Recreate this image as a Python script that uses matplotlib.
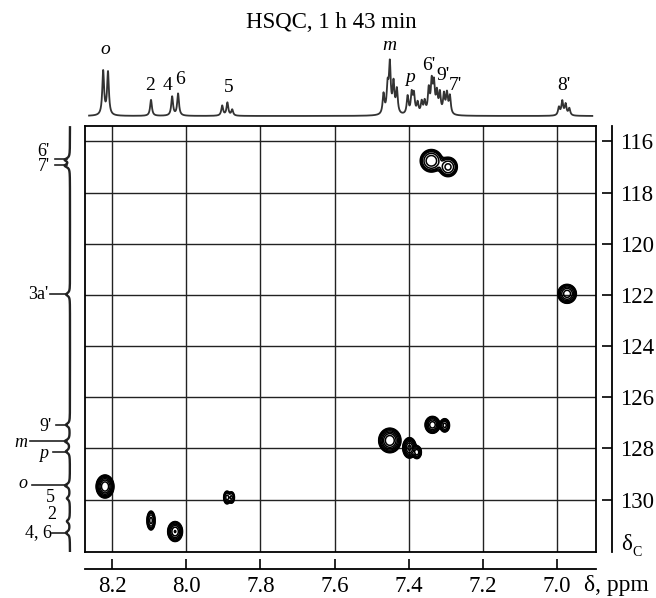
import numpy as np
import matplotlib
matplotlib.use("Agg")
import matplotlib.pyplot as plt

plt.rcParams['font.family'] = ['Liberation Serif', 'DejaVu Serif']

W, H = 656, 598

# axis ranges / ticks
h_lim = (8.273, 6.895)
c_lim = (132.05, 115.4)
h_ticks = [8.2, 8.0, 7.8, 7.6, 7.4, 7.2, 7.0]
c_ticks = [116, 118, 120, 122, 124, 126, 128, 130]

# HSQC cross peaks (1H ppm, 13C ppm, outer half size H, outer half size C, rel. intensity)
peak_h = [8.219, 8.095, 8.030, 7.890, 7.878, 7.451, 7.398, 7.378, 7.336, 7.303, 7.339, 7.294, 6.973]
peak_c = [129.49, 130.82, 131.25, 129.92, 129.92, 127.69, 127.98, 128.15, 127.08, 127.10, 116.76, 117.00, 121.96]
half_h = [0.024, 0.011, 0.020, 0.009, 0.008, 0.030, 0.018, 0.012, 0.020, 0.013, 0.030, 0.025, 0.025]
half_c = [0.45, 0.37, 0.39, 0.25, 0.22, 0.48, 0.40, 0.25, 0.33, 0.26, 0.44, 0.38, 0.37]
peak_amp = [5.0, 0.8, 2.5, 0.4, 0.35, 5.0, 3.0, 1.0, 2.0, 0.8, 1.2, 0.8, 2.0]
levels = [0.05, 0.07, 0.1, 0.15, 0.3, 0.6, 1.2, 2.4]

# 1H projection lines (ppm, height in px above baseline)
h1_pos = [8.224, 8.211, 8.095, 8.038, 8.022, 7.903, 7.889, 7.876,
          7.468, 7.457, 7.451, 7.441, 7.432,
          7.403, 7.392, 7.386, 7.376, 7.365, 7.357,
          7.346, 7.338, 7.332, 7.324, 7.316, 7.305, 7.297, 7.289,
          6.995, 6.986, 6.977, 6.967]
h1_height = [44, 43, 16, 19, 22, 10, 13, 6,
             20, 26, 48, 30, 24,
             18, 20, 19, 11, 12, 12,
             24, 30, 28, 20, 20, 19, 20, 18,
             8, 14, 11, 7]
h1_labels = ['o', '2', '4', '6', '5', 'm', 'p', "6'", "9'", "7'", "8'"]
h1_label_x = [8.217, 8.097, 8.051, 8.016, 7.886, 7.451, 7.397, 7.346, 7.308, 7.273, 6.981]
h1_label_y = [67, 31, 31, 36, 28, 71, 39, 51, 41, 30, 31]
h1_italic = [True, False, False, False, False, True, True, False, False, False, False]

# 13C projection lines (ppm, depth in px)
c13_pos = [116.72, 116.95, 121.98, 127.08, 127.72, 128.12, 129.45, 129.95, 130.85, 131.3]
c13_depth = [5, 5, 4, 4, 5, 4, 5, 3, 3, 4]
c13_labels = ["6'", "7'", "3a'", "9'", 'm', 'p', 'o', '5', '2', '4, 6']
c13_label_c = [116.38, 117.0, 121.98, 127.14, 127.76, 128.2, 129.37, 129.92, 130.6, 131.29]
c13_label_x = [-20, -20, -22, -18, -43, -22, -43, -15, -14, -18]
c13_italic = [False, False, False, False, True, True, True, False, False, False]
c13_line_c = [116.7, 116.94, 121.98, 127.1, 127.72, 128.16, 129.45, None, None, 131.3]
c13_line_x0 = [-15, -15, -20, -14, -40, -17, -38, None, None, -18]


def lorentz(x, x0, w):
    return 1.0 / (1.0 + ((x - x0) / w) ** 2)


fig = plt.figure(figsize=(W / 100, H / 100), dpi=100)

# main 2D panel
ax = fig.add_axes([85 / W, 1 - 552 / H, 511 / W, 426 / H])
hh = np.linspace(h_lim[1], h_lim[0], 1400)
cc = np.linspace(c_lim[1], c_lim[0], 900)
HH, CC = np.meshgrid(hh, cc)
Z = np.zeros_like(HH)
for h0, c0, wh, wc, a in zip(peak_h, peak_c, half_h, half_c, peak_amp):
    k = np.sqrt(2 * np.log(a / levels[0]))
    sh, sc = wh / k, wc / k
    Z += a * np.exp(-0.5 * ((HH - h0) / sh) ** 2 - 0.5 * ((CC - c0) / sc) ** 2)
ax.contour(HH, CC, Z, levels=levels, colors='black', linewidths=1.1)
ax.set_xlim(*h_lim)
ax.set_ylim(*c_lim)
ax.set_xticks(h_ticks)
ax.set_yticks(c_ticks)
ax.grid(True, color='#222222', lw=1.0)
ax.tick_params(length=0, labelbottom=False, labelleft=False)
for s in ax.spines.values():
    s.set_linewidth(1.3)

# detached bottom / right scales
secx = ax.secondary_xaxis(-0.040)
secx.set_xticks(h_ticks)
secx.set_xticklabels(['%.1f' % t for t in h_ticks])
secx.tick_params(direction='in', length=7, width=1.2, labelsize=16.5, pad=5)
secx.spines['bottom'].set_linewidth(1.3)

secy = ax.secondary_yaxis(1.0313)
secy.set_yticks(c_ticks)
secy.tick_params(direction='in', length=7, width=1.2, labelsize=16.5, pad=6)
secy.spines['right'].set_linewidth(1.3)

fig.text(584 / W, 1 - 585 / H, 'δ, ppm', fontsize=17, va='center', ha='left')
fig.text(621 / W, 1 - 545 / H, 'δ', fontsize=16.5, va='center', ha='left')
fig.text(632 / W, 1 - 553 / H, 'C', fontsize=10, va='center', ha='left')

# top 1H projection
ax_t = fig.add_axes([85 / W, 1 - 120 / H, 511 / W, 90 / H])
xs = np.linspace(8.262, 6.905, 3000)
ys = np.zeros_like(xs)
for p, hgt in zip(h1_pos, h1_height):
    ys += hgt * lorentz(xs, p, 0.0029)
ax_t.plot(xs, ys, color='#333333', lw=1.3)
for lab, lx, ly, it in zip(h1_labels, h1_label_x, h1_label_y, h1_italic):
    ax_t.text(lx, ly, lab, fontsize=14, ha='center', va='center',
              style='italic' if it else 'normal')
ax_t.set_xlim(*h_lim)
ax_t.set_ylim(-4, 86)
ax_t.axis('off')

# left 13C projection
ax_l = fig.add_axes([0, 1 - 552 / H, 80 / W, 426 / H])
cs = np.linspace(115.45, 132.05, 2000)
xs_l = np.zeros_like(cs)
for p, d in zip(c13_pos, c13_depth):
    xs_l -= d * lorentz(cs, p, 0.07)
ax_l.plot(xs_l, cs, color='#222222', lw=1.7)
for lab, lc, lx, it, yl, x0 in zip(c13_labels, c13_label_c, c13_label_x, c13_italic,
                                   c13_line_c, c13_line_x0):
    ax_l.text(lx, lc, lab, fontsize=13, ha='right', va='center',
              style='italic' if it else 'normal')
    if yl is not None:
        ax_l.plot([x0, -3], [yl, yl], color='#222222', lw=1.2, clip_on=False)
ax_l.set_xlim(-70, 10)
ax_l.set_ylim(*c_lim)
ax_l.axis('off')

fig.text(331 / W, 1 - 22 / H, 'HSQC, 1 h 43 min', fontsize=16.5, ha='center', va='center')

fig.savefig('out.png', dpi=100)
